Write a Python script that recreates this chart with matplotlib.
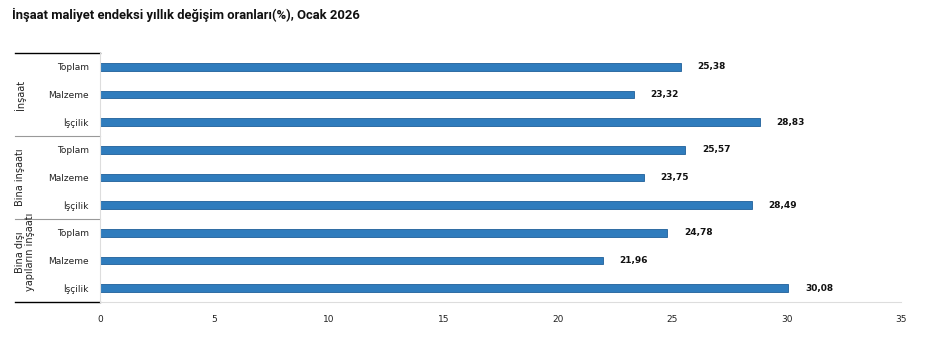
import matplotlib
matplotlib.use('Agg')
import matplotlib.pyplot as plt
from matplotlib.transforms import blended_transform_factory
import numpy as np

plt.rcParams['font.family'] = ['DejaVu Sans']

groups = ['İnşaat', 'Bina inşaatı', 'Bina dışı\nyapıların inşaatı']
items = ['Toplam', 'Malzeme', 'İşçilik']
values = [25.38, 23.32, 28.83,
          25.57, 23.75, 28.49,
          24.78, 21.96, 30.08]
labels = ['25,38', '23,32', '28,83',
          '25,57', '23,75', '28,49',
          '24,78', '21,96', '30,08']
xticks = [0, 5, 10, 15, 20, 25, 30, 35]

fig = plt.figure(figsize=(9.3, 3.42), dpi=100)
ax = fig.add_axes([100/930, 1-302/342, 801/930, 249/342])

ypos = np.arange(len(values))
ax.barh(ypos, values, height=0.27, color='#2f7cbd', edgecolor='#1f5f9a', linewidth=0.6)
ax.set_ylim(len(values)-0.5, -0.5)
ax.set_xlim(0, 35)
ax.set_xticks(xticks)
ax.set_xticklabels([str(t) for t in xticks], fontsize=6.5, color='#222222')
ax.set_yticks(ypos)
ax.set_yticklabels(items*len(groups), fontsize=6.5, color='#222222')
ax.tick_params(axis='both', length=0)
ax.tick_params(axis='y', pad=8)
ax.tick_params(axis='x', pad=9)

for s in ['top', 'right']:
    ax.spines[s].set_visible(False)
for s in ['left', 'bottom']:
    ax.spines[s].set_color('#dddddd')
    ax.spines[s].set_linewidth(0.8)

for y, v, lab in zip(ypos, values, labels):
    ax.annotate(lab, (v, y), xytext=(12, 0), textcoords='offset points',
                va='center', ha='left', fontsize=6.5, fontweight='bold', color='#111111')

tr = blended_transform_factory(ax.transAxes, ax.transData)
x0 = -85/801
ax.plot([x0, 0], [-0.5, -0.5], transform=tr, color='black', lw=1, clip_on=False)
ax.plot([x0, 0], [2.5, 2.5], transform=tr, color='#999999', lw=0.8, clip_on=False)
ax.plot([x0, 0], [5.5, 5.5], transform=tr, color='#999999', lw=0.8, clip_on=False)
ax.plot([x0, 0], [8.5, 8.5], transform=tr, color='black', lw=1, clip_on=False)

gx = [-80/801, -80/801, -75/801]
gy = [1, 4, 6.7]
for i, g in enumerate(groups):
    ax.text(gx[i], gy[i], g, transform=tr, rotation=90, ha='center', va='center',
            fontsize=7, color='#222222', multialignment='center', linespacing=1.1)

fig.text(12/930, 1-15/342, 'İnşaat maliyet endeksi yıllık değişim oranları(%), Ocak 2026',
         fontsize=9.4, fontweight='bold', family='Roboto', color='#111111', va='center', ha='left')

fig.savefig('out.png', dpi=100, facecolor='white')
